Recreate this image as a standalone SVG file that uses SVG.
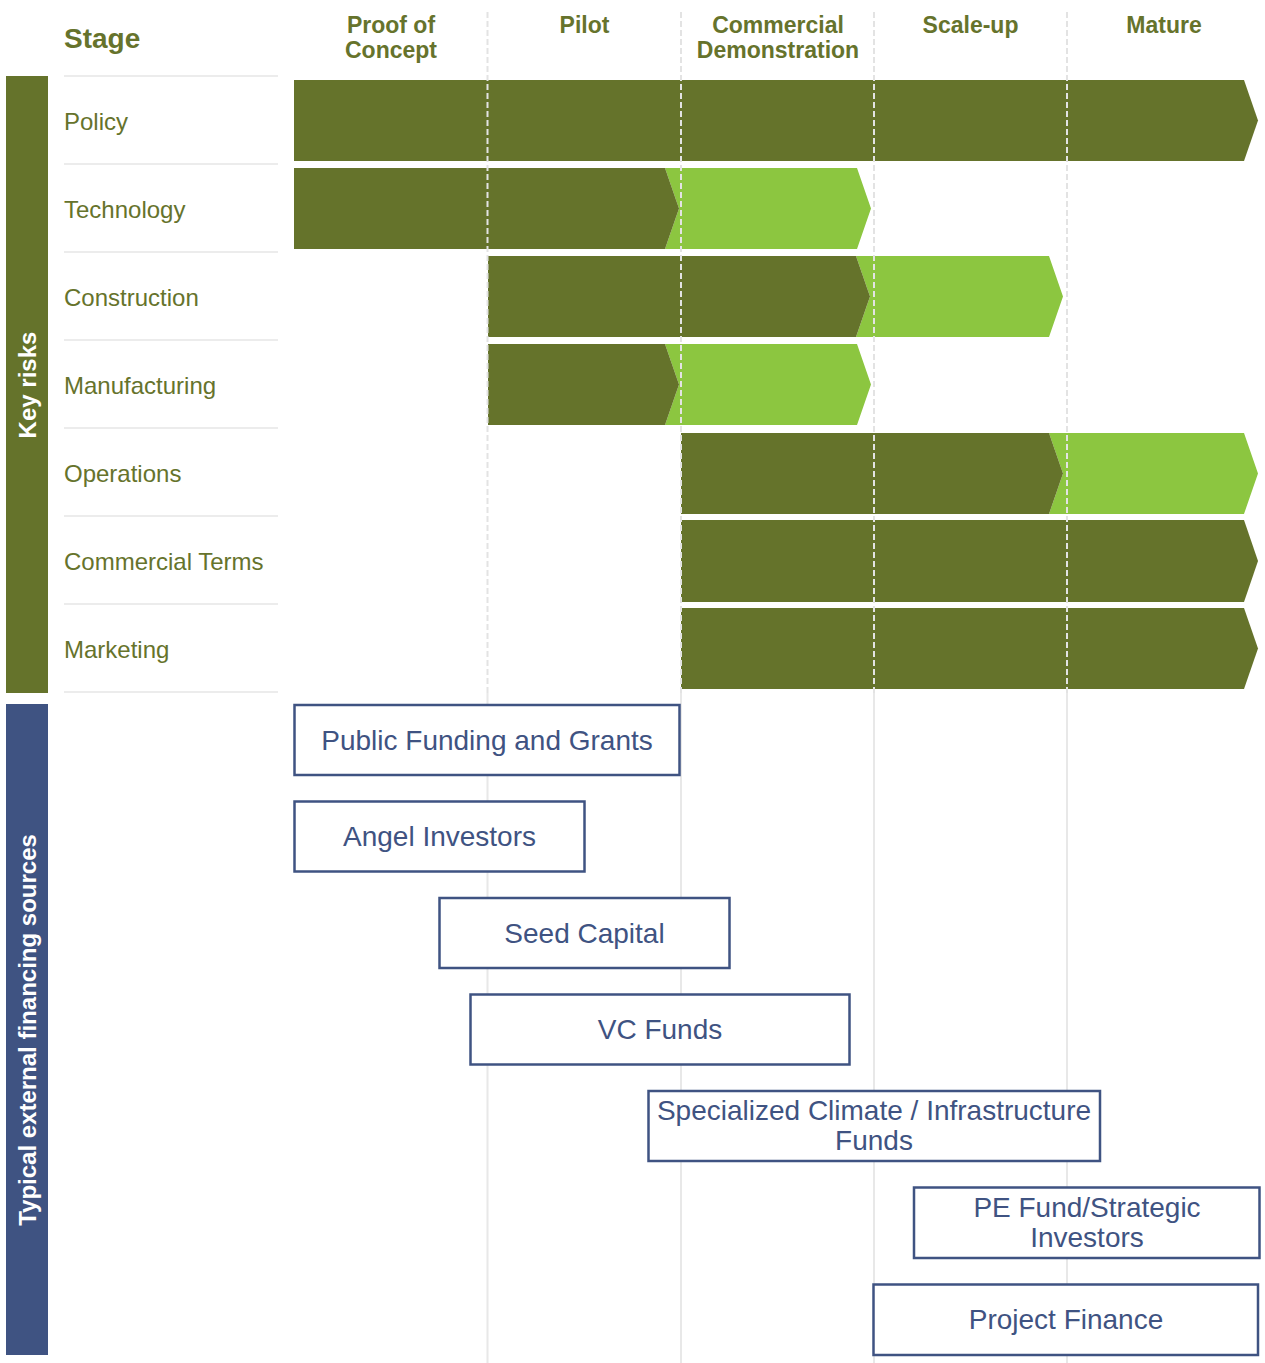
<svg xmlns="http://www.w3.org/2000/svg" width="1265" height="1363" viewBox="0 0 1265 1363">
<style>
.hdr{font-family:"Liberation Sans",Arial,sans-serif;font-weight:bold;font-size:23px;fill:#66732c;text-anchor:middle}
.stage{font-family:"Liberation Sans",Arial,sans-serif;font-weight:bold;font-size:28px;fill:#66732c}
.row{font-family:"Liberation Sans",Arial,sans-serif;font-size:24px;fill:#66732c}
.side{font-family:"Liberation Sans",Arial,sans-serif;font-weight:bold;font-size:24px;fill:#ffffff;text-anchor:middle}
.sep{stroke:#e6e6e6;stroke-width:1.5}
.dk{fill:#65732b}
.lt{fill:#8cc640}
.grid-d{stroke:#e3e3e3;stroke-width:2;stroke-dasharray:6 3}
.grid-s{stroke:#e8e8e8;stroke-width:2}
.box{fill:#ffffff;stroke:#3f5382;stroke-width:2.5}
.btxt{font-family:"Liberation Sans",Arial,sans-serif;font-size:28px;fill:#3f5382;text-anchor:middle}
</style>
<rect width="1265" height="1363" fill="#ffffff"/>

<g id="sidebars">
<rect x="6" y="76" width="42" height="617" fill="#65732b"/>
<text class="side" transform="translate(36,385) rotate(-90)">Key risks</text>
<rect x="6" y="704" width="42" height="651" fill="#3f5382"/>
<text class="side" transform="translate(36,1030) rotate(-90)">Typical external financing sources</text>
</g>

<g id="header">
<text class="stage" x="64" y="48">Stage</text>
<text class="hdr" x="391" y="33">Proof of</text>
<text class="hdr" x="391" y="58">Concept</text>
<text class="hdr" x="584.5" y="33">Pilot</text>
<text class="hdr" x="778" y="33">Commercial</text>
<text class="hdr" x="778" y="58">Demonstration</text>
<text class="hdr" x="970.5" y="33">Scale-up</text>
<text class="hdr" x="1164" y="33">Mature</text>
</g>

<g id="row-separators">
<line class="sep" x1="64" y1="76" x2="278" y2="76"/>
<line class="sep" x1="64" y1="164" x2="278" y2="164"/>
<line class="sep" x1="64" y1="252" x2="278" y2="252"/>
<line class="sep" x1="64" y1="340" x2="278" y2="340"/>
<line class="sep" x1="64" y1="428" x2="278" y2="428"/>
<line class="sep" x1="64" y1="516" x2="278" y2="516"/>
<line class="sep" x1="64" y1="604" x2="278" y2="604"/>
<line class="sep" x1="64" y1="692" x2="278" y2="692"/>
</g>

<g id="risk-policy">
<text class="row" x="64" y="130">Policy</text>
<polygon class="dk" points="294,80 1244,80 1258,120.5 1244,161 294,161"/>
</g>
<g id="risk-technology">
<text class="row" x="64" y="218">Technology</text>
<polygon class="lt" points="665,168 857,168 871,208.5 857,249 665,249 679,208.5"/>
<polygon class="dk" points="294,168 665,168 679,208.5 665,249 294,249"/>
</g>
<g id="risk-construction">
<text class="row" x="64" y="306">Construction</text>
<polygon class="lt" points="856,256 1049,256 1063,296.5 1049,337 856,337 870,296.5"/>
<polygon class="dk" points="488,256 856,256 870,296.5 856,337 488,337"/>
</g>
<g id="risk-manufacturing">
<text class="row" x="64" y="394">Manufacturing</text>
<polygon class="lt" points="665,344 857,344 871,384.5 857,425 665,425 679,384.5"/>
<polygon class="dk" points="488,344 665,344 679,384.5 665,425 488,425"/>
</g>
<g id="risk-operations">
<text class="row" x="64" y="482">Operations</text>
<polygon class="lt" points="1049,433 1244,433 1258,473.5 1244,514 1049,514 1063,473.5"/>
<polygon class="dk" points="681,433 1049,433 1063,473.5 1049,514 681,514"/>
</g>
<g id="risk-commercial-terms">
<text class="row" x="64" y="570">Commercial Terms</text>
<polygon class="dk" points="681,520 1244,520 1258,561 1244,602 681,602"/>
</g>
<g id="risk-marketing">
<text class="row" x="64" y="658">Marketing</text>
<polygon class="dk" points="681,608 1244,608 1258,648.5 1244,689 681,689"/>
</g>

<g id="connectors">
<line class="grid-d" x1="487.5" y1="12" x2="487.5" y2="693"/>
<line class="grid-d" x1="681" y1="12" x2="681" y2="693"/>
<line class="grid-d" x1="874" y1="12" x2="874" y2="693"/>
<line class="grid-d" x1="1067" y1="12" x2="1067" y2="693"/>
<line class="grid-s" x1="487.5" y1="693" x2="487.5" y2="1363"/>
<line class="grid-s" x1="681" y1="693" x2="681" y2="1363"/>
<line class="grid-s" x1="874" y1="693" x2="874" y2="1363"/>
<line class="grid-s" x1="1067" y1="693" x2="1067" y2="1363"/>
</g>

<g id="fin-public">
<rect class="box" x="294.5" y="705" width="385" height="70"/>
<text class="btxt" x="487" y="750">Public Funding and Grants</text>
</g>
<g id="fin-angel">
<rect class="box" x="294.5" y="801.5" width="290" height="70"/>
<text class="btxt" x="439.5" y="846">Angel Investors</text>
</g>
<g id="fin-seed">
<rect class="box" x="439.5" y="898" width="290" height="70"/>
<text class="btxt" x="584.5" y="943">Seed Capital</text>
</g>
<g id="fin-vc">
<rect class="box" x="470.5" y="994.5" width="379" height="70"/>
<text class="btxt" x="660" y="1039">VC Funds</text>
</g>
<g id="fin-specialized">
<rect class="box" x="648.5" y="1091" width="451.5" height="70"/>
<text class="btxt" x="874" y="1120">Specialized Climate / Infrastructure</text>
<text class="btxt" x="874" y="1150">Funds</text>
</g>
<g id="fin-pe">
<rect class="box" x="914" y="1187.5" width="345.5" height="70.5"/>
<text class="btxt" x="1087" y="1217">PE Fund/Strategic</text>
<text class="btxt" x="1087" y="1247">Investors</text>
</g>
<g id="fin-project">
<rect class="box" x="873.5" y="1284.5" width="384.5" height="70.5"/>
<text class="btxt" x="1066" y="1329">Project Finance</text>
</g>
</svg>
